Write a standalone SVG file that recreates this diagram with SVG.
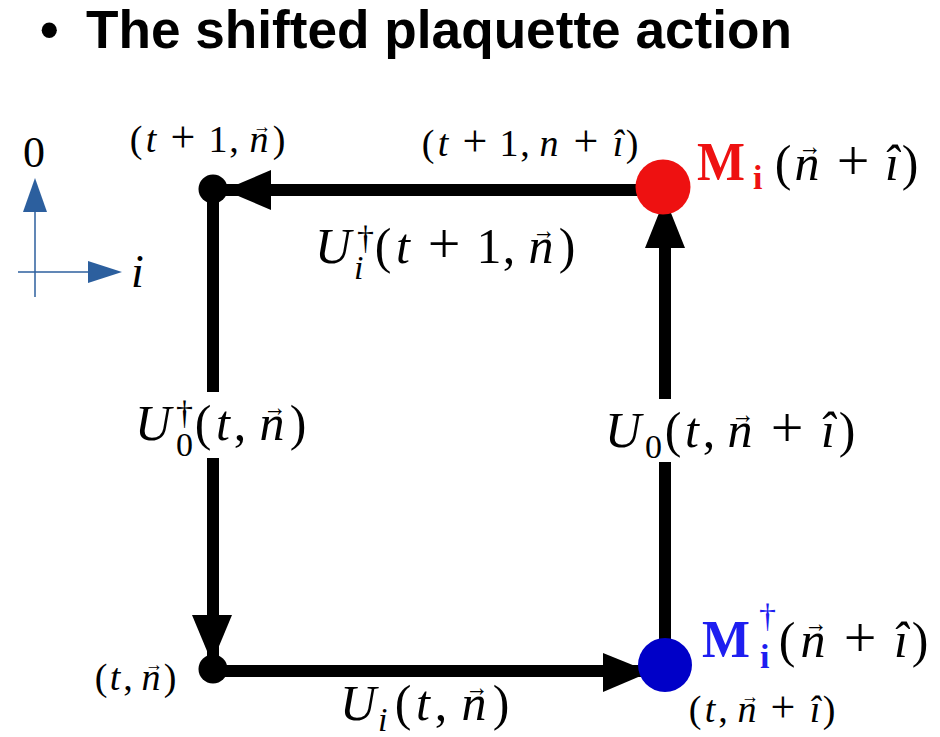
<svg xmlns="http://www.w3.org/2000/svg" width="940" height="737" viewBox="0 0 940 737">
  <style>
    .title { font-family: "Liberation Sans", Arial, sans-serif; font-weight: bold; font-size: 53px; fill: #000; }
    .m { font-family: "Liberation Serif", "DejaVu Serif", serif; fill: #000; }
    .mc { font-family: "Liberation Serif", "DejaVu Serif", serif; fill: #000; text-anchor: middle; }
    .L { font-size: 50px; }
    .S { font-size: 38px; }
    .pL { font-size: 58px; }
    .pS { font-size: 44px; }
    .sc { font-size: 34px; }
    .va { font-size: 26px; }
    .vs { font-size: 20px; }
    .it { font-style: italic; }
    .bf { font-weight: bold; }
    .red { fill: #ee1111; }
    .blue { fill: #1e1ef0; }
    .link { stroke: #000; stroke-width: 12; fill: none; }
    .head { fill: #000; }
    .axis { stroke: #2c5f9e; stroke-width: 1.5; fill: none; }
    .axhead { fill: #2c5f9e; }
  </style>
  <rect width="940" height="737" fill="#ffffff"/>

  <g id="title">
    <text class="title" x="40" y="48">•</text>
    <text class="title" x="86" y="48" textLength="706" lengthAdjust="spacingAndGlyphs">The shifted plaquette action</text>
  </g>

  <g id="axes">
    <line class="axis" x1="35" y1="297" x2="35" y2="210"/>
    <polygon class="axhead" points="35,178 23,212 47,212"/>
    <line class="axis" x1="18" y1="272" x2="90" y2="272"/>
    <polygon class="axhead" points="122,272 88,261 88,283"/>
    <text class="m" x="23" y="167" font-size="44">0</text>
    <text class="m it" x="131" y="287" font-size="46">i</text>
  </g>

  <g id="connectors">
    <line class="link" x1="225" y1="190" x2="663" y2="190"/>
    <polygon class="head" points="224,190 271,170 271,210"/>
    <line class="link" x1="665" y1="665" x2="665" y2="462"/>
    <line class="link" x1="665" y1="399" x2="665" y2="200"/>
    <polygon class="head" points="665,198 645,248 685,248"/>
    <line class="link" x1="213" y1="189" x2="213" y2="392"/>
    <line class="link" x1="213" y1="458" x2="213" y2="660"/>
    <polygon class="head" points="212,663 192,615 232,615"/>
    <line class="link" x1="213" y1="671" x2="650" y2="671"/>
    <polygon class="head" points="650,672 603,653 603,692"/>
  </g>

  <g id="node-tl">
    <circle cx="213" cy="189" r="14.5" fill="#000"/>
    <text class="mc S" y="152"><tspan x="136">(</tspan><tspan x="151" class="it">t</tspan><tspan x="183" class="pS">+</tspan><tspan x="218">1</tspan><tspan x="234">,</tspan><tspan x="259" class="it">n</tspan><tspan x="279">)</tspan></text>
    <text class="mc vs" x="262" y="133" textLength="18" lengthAdjust="spacingAndGlyphs">→</text>
  </g>

  <g id="node-tr">
    <circle cx="663" cy="187" r="27.5" fill="#ee1111"/>
    <text class="mc S" y="156"><tspan x="428">(</tspan><tspan x="443" class="it">t</tspan><tspan x="475" class="pS">+</tspan><tspan x="509">1</tspan><tspan x="525">,</tspan><tspan x="549" class="it">n</tspan><tspan x="586" class="pS">+</tspan><tspan x="618" class="it">î</tspan><tspan x="632">)</tspan></text>
    <text class="m bf red" x="697" y="180" font-size="54" textLength="48" lengthAdjust="spacingAndGlyphs">M</text>
    <text class="m sc bf red" x="753" y="189">i</text>
    <text class="mc L" y="180"><tspan x="783">(</tspan><tspan x="807" class="it">n</tspan><tspan x="853" class="pL">+</tspan><tspan x="892" class="it">î</tspan><tspan x="910">)</tspan></text>
    <text class="mc va" x="810" y="155" textLength="23" lengthAdjust="spacingAndGlyphs">→</text>
  </g>

  <g id="node-bl">
    <circle cx="213" cy="669" r="14.5" fill="#000"/>
    <text class="mc S" y="690"><tspan x="101">(</tspan><tspan x="115" class="it">t</tspan><tspan x="128">,</tspan><tspan x="151" class="it">n</tspan><tspan x="170">)</tspan></text>
    <text class="mc vs" x="154" y="671" textLength="18" lengthAdjust="spacingAndGlyphs">→</text>
  </g>

  <g id="node-br">
    <circle cx="665" cy="665" r="27" fill="#0000c8"/>
    <text class="m bf blue" x="702" y="657" font-size="52" textLength="48" lengthAdjust="spacingAndGlyphs">M</text>
    <text class="m sc blue" x="759" y="627">†</text>
    <text class="m sc bf blue" x="760" y="668">i</text>
    <text class="mc L" y="657"><tspan x="787">(</tspan><tspan x="813" class="it">n</tspan><tspan x="860" class="pL">+</tspan><tspan x="901" class="it">î</tspan><tspan x="920">)</tspan></text>
    <text class="mc va" x="816" y="632" textLength="23" lengthAdjust="spacingAndGlyphs">→</text>
    <text class="mc S" y="722"><tspan x="695">(</tspan><tspan x="710" class="it">t</tspan><tspan x="723">,</tspan><tspan x="747" class="it">n</tspan><tspan x="783" class="pS">+</tspan><tspan x="815" class="it">î</tspan><tspan x="829">)</tspan></text>
    <text class="mc vs" x="750" y="703" textLength="18" lengthAdjust="spacingAndGlyphs">→</text>
  </g>

  <g id="labels">
    <g id="label-top">
      <text class="m L it" x="315" y="263">U</text>
      <text class="m sc" x="357" y="249">†</text>
      <text class="m sc it" x="354" y="279">i</text>
      <text class="mc L" y="263"><tspan x="383">(</tspan><tspan x="403" class="it">t</tspan><tspan x="444" class="pL">+</tspan><tspan x="489">1</tspan><tspan x="509">,</tspan><tspan x="541" class="it">n</tspan><tspan x="567">)</tspan></text>
      <text class="mc va" x="544" y="239" textLength="23" lengthAdjust="spacingAndGlyphs">→</text>
    </g>
    <g id="label-left">
      <text class="m L it" x="135" y="440">U</text>
      <text class="m sc" x="176" y="424">†</text>
      <text class="m sc" x="176" y="456">0</text>
      <text class="mc L" y="440"><tspan x="203">(</tspan><tspan x="223" class="it">t</tspan><tspan x="240">,</tspan><tspan x="272" class="it">n</tspan><tspan x="298">)</tspan></text>
      <text class="mc va" x="275" y="416" textLength="23" lengthAdjust="spacingAndGlyphs">→</text>
    </g>
    <g id="label-right">
      <text class="m L it" x="605" y="447">U</text>
      <text class="m sc" x="645" y="458">0</text>
      <text class="mc L" y="447"><tspan x="673">(</tspan><tspan x="692" class="it">t</tspan><tspan x="709">,</tspan><tspan x="740" class="it">n</tspan><tspan x="787" class="pL">+</tspan><tspan x="828" class="it">î</tspan><tspan x="847">)</tspan></text>
      <text class="mc va" x="743" y="423" textLength="23" lengthAdjust="spacingAndGlyphs">→</text>
    </g>
    <g id="label-bottom">
      <text class="m L it" x="340" y="720">U</text>
      <text class="m sc it" x="378" y="731">i</text>
      <text class="mc L" y="720"><tspan x="403">(</tspan><tspan x="423" class="it">t</tspan><tspan x="441">,</tspan><tspan x="474" class="it">n</tspan><tspan x="501">)</tspan></text>
      <text class="mc va" x="477" y="696" textLength="23" lengthAdjust="spacingAndGlyphs">→</text>
    </g>
  </g>
</svg>
